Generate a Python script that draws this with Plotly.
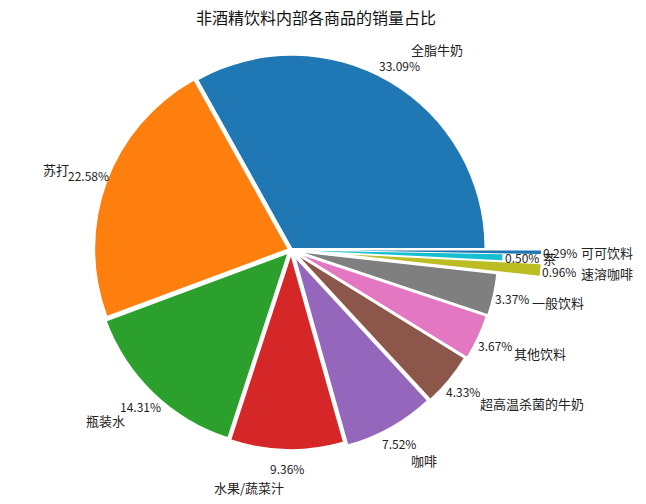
import math
import plotly.graph_objects as go

# ---- data ----
categories = ["全脂牛奶", "苏打", "瓶装水", "水果/蔬菜汁", "咖啡", "超高温杀菌的牛奶",
              "其他饮料", "一般饮料", "速溶咖啡", "茶", "可可饮料"]
shares = [33.09, 22.58, 14.31, 9.36, 7.52, 4.33, 3.67, 3.37, 0.96, 0.50, 0.29]
pct_labels = ["33.09%", "22.58%", "14.31%", "9.36%", "7.52%", "4.33%",
              "3.67%", "3.37%", "0.96%", "0.50%", "0.29%"]

# ---- style ----
colors = ["#1f77b4", "#ff7f0e", "#2ca02c", "#d62728", "#9467bd", "#8c564b",
          "#e377c2", "#7f7f7f", "#bcbd22", "#17becf", "#1f77b4"]
pulls = [0.012, 0.02, 0.03, 0.035, 0.055, 0.06, 0.07, 0.075, 0.3, 0.1, 0.3]
W, H = 646, 504
dom_x = [0.0634, 0.8376]
dom_y = [0.0080, 0.9999]
pct_dist = 1.1
lab_dist = 1.2
FONT = "Noto Sans CJK SC"

total = sum(shares)
# plotly (counterclockwise) puts the first slice's far edge at the rotation angle;
# we want the first slice to start at 3 o'clock like matplotlib
rot = 90 - shares[0] / total * 360

fig = go.Figure(go.Pie(
    labels=categories, values=shares, sort=False, direction="counterclockwise",
    rotation=rot, pull=pulls, textinfo="none", hoverinfo="label+percent",
    marker=dict(colors=colors, line=dict(width=0)),
    domain=dict(x=dom_x, y=dom_y), showlegend=False,
))

# geometry of the pie (same rule plotly uses)
cx = (dom_x[0] + dom_x[1]) / 2 * W
cy = (1 - (dom_y[0] + dom_y[1]) / 2) * H
R = min((dom_x[1] - dom_x[0]) * W, (dom_y[1] - dom_y[0]) * H) / (2 * (1 + max(pulls)))

annotations = []
cum = 0.0
for cat, v, p, pl in zip(categories, shares, pct_labels, pulls):
    mid = (cum + v / 2) / total * 2 * math.pi
    cum += v
    c, s = math.cos(mid), math.sin(mid)
    px = cx + (pl + pct_dist) * R * c
    py = cy - (pl + pct_dist) * R * s
    annotations.append(dict(x=px / W, y=1 - py / H, xref="paper", yref="paper",
                            text=p, showarrow=False, xanchor="center", yanchor="middle",
                            font=dict(size=12, color="#222", family=FONT)))
    lx = cx + (pl + lab_dist) * R * c
    ly = cy - (pl + lab_dist) * R * s
    annotations.append(dict(x=lx / W, y=1 - ly / H, xref="paper", yref="paper",
                            text=cat, showarrow=False,
                            xanchor="left" if c > 0 else "right", yanchor="middle",
                            font=dict(size=13, color="#222", family=FONT)))

fig.update_layout(
    width=W, height=H, margin=dict(l=0, r=0, t=0, b=0),
    paper_bgcolor="white", plot_bgcolor="white",
    title=dict(text="非酒精饮料内部各商品的销量占比", x=316 / W, xanchor="center",
               y=1 - 18 / H, yanchor="middle", yref="container",
               font=dict(size=16, color="#111", family=FONT)),
    annotations=annotations,
    font=dict(family=FONT),
)

fig.write_html("out.html", config={"displayModeBar": False},
               post_script="document.body.style.margin='0';")
